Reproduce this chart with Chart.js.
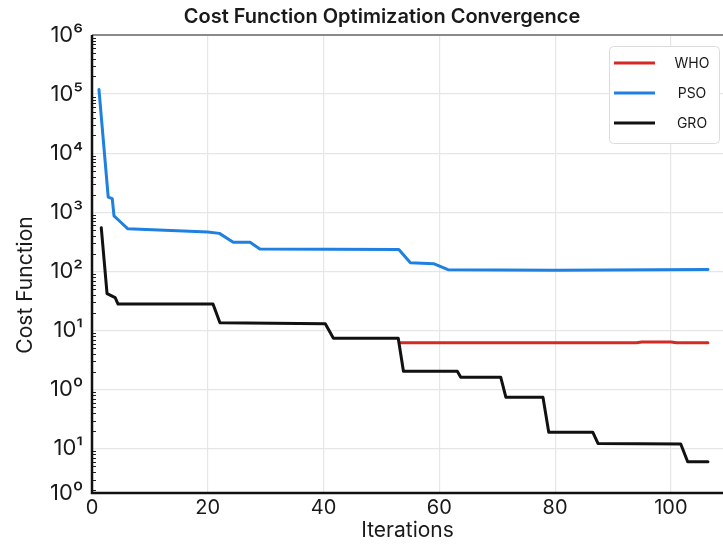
<!DOCTYPE html>
<html>
<head>
<meta charset="utf-8">
<script src="https://cdn.jsdelivr.net/npm/chart.js@4"></script>
<style>
  html, body { margin: 0; padding: 0; background: #fff; }
  #wrap { width: 723px; height: 547px; position: relative; }
</style>
</head>
<body>
<div id="wrap"><canvas id="costChart"></canvas></div>
<script>
// values (iteration, cost)
const whoIters = [53.3, 94, 95, 100, 101, 106.4];
const whoCost  = [6.2, 6.2, 6.4, 6.4, 6.2, 6.2];

const psoIters = [1.2, 2.8, 3.5, 3.8, 4.7, 6.2, 20, 22, 24.4, 27.3, 29, 53, 55, 59, 61.5, 80, 106.4];
const psoCost  = [120000, 1800, 1700, 870, 720, 525, 465, 440, 310, 310, 240, 235, 140, 135, 107, 105, 108];

const groIters = [1.6, 2.6, 4, 4.5, 20.9, 22.1, 40.3, 41.7, 52.9, 53.8, 63.1, 63.7, 70.6, 71.5, 77.9, 78.9, 86.5, 87.4, 101.7, 102.9, 106.4];
const groCost  = [550, 42, 36, 28, 28, 13.5, 13, 7.4, 7.4, 2.04, 2.04, 1.62, 1.62, 0.74, 0.74, 0.19, 0.19, 0.123, 0.12, 0.06, 0.06];

const seriesNames = ["WHO", "PSO", "GRO"];
const seriesColors = ["#d42a26", "#1f80e0", "#111111"];

const xTicks = [0, 20, 40, 60, 80, 100];
const yTickValues = [0.0178, 0.1, 1, 10, 100, 1000, 10000, 100000, 1000000];
const yTickLabels = ["10\u2070", "10\u00b9", "10\u2070", "10\u00b9", "10\u00b2", "10\u00b3", "10\u2074", "10\u2075", "10\u2076"];

const fontFamily = "Inter, 'Liberation Sans', sans-serif";

function toPoints(xs, ys) {
    return xs.map((x, i) => ({ x: x, y: ys[i] }));
}

const textPlugin = {
    id: "texts",
    afterDraw(chart) {
        const ctx = chart.ctx;
        ctx.save();
        ctx.fillStyle = "#1a1a1a";
        ctx.font = "600 20px " + fontFamily;
        ctx.textAlign = "center";
        ctx.textBaseline = "middle";
        ctx.fillText("Cost Function Optimization Convergence", 382, 17);
        // y axis title
        ctx.font = "21px " + fontFamily;
        ctx.translate(26, 285);
        ctx.rotate(-Math.PI / 2);
        ctx.fillText("Cost Function", 0, 0);
        ctx.restore();
    }
};

const framePlugin = {
    id: "frame",
    afterDraw(chart) {
        const ctx = chart.ctx;
        const a = chart.chartArea;
        const y = chart.scales.y;
        ctx.save();
        // grey top border
        ctx.strokeStyle = "#8a8a8a";
        ctx.lineWidth = 2;
        ctx.beginPath();
        ctx.moveTo(a.left, a.top);
        ctx.lineTo(a.right, a.top);
        ctx.stroke();
        // minor ticks on the left axis
        ctx.strokeStyle = "#222";
        ctx.lineWidth = 1;
        for (let d = -2; d < 6; d++) {
            for (let k = 2; k < 10; k++) {
                const v = k * Math.pow(10, d);
                if (v <= y.min || v >= y.max) continue;
                const py = Math.round(y.getPixelForValue(v)) + 0.5;
                ctx.beginPath();
                ctx.moveTo(a.left, py);
                ctx.lineTo(a.left + 4, py);
                ctx.stroke();
            }
        }
        // left and bottom axis lines
        ctx.strokeStyle = "#111";
        ctx.lineWidth = 2.5;
        ctx.beginPath();
        ctx.moveTo(a.left, a.top);
        ctx.lineTo(a.left, a.bottom);
        ctx.lineTo(a.right, a.bottom);
        ctx.stroke();
        ctx.restore();
    }
};

const legendPlugin = {
    id: "boxLegend",
    afterDraw(chart) {
        const ctx = chart.ctx;
        const rowY = [63, 93, 123];
        ctx.save();
        ctx.fillStyle = "#fff";
        ctx.strokeStyle = "#dcdcdc";
        ctx.lineWidth = 1;
        ctx.beginPath();
        ctx.roundRect(609.5, 46.5, 110, 97, 4);
        ctx.fill();
        ctx.stroke();
        ctx.font = "14px " + fontFamily;
        ctx.textAlign = "center";
        ctx.textBaseline = "middle";
        seriesNames.forEach((name, i) => {
            ctx.strokeStyle = seriesColors[i];
            ctx.lineWidth = 3;
            ctx.beginPath();
            ctx.moveTo(614, rowY[i]);
            ctx.lineTo(655, rowY[i]);
            ctx.stroke();
            ctx.fillStyle = "#1a1a1a";
            ctx.fillText(name, 692, rowY[i] + 1);
        });
        ctx.restore();
    }
};

const ctx = document.getElementById("costChart").getContext("2d");
new Chart(ctx, {
    type: "line",
    data: {
        datasets: [
            { label: seriesNames[0], data: toPoints(whoIters, whoCost), borderColor: seriesColors[0], order: 1 },
            { label: seriesNames[1], data: toPoints(psoIters, psoCost), borderColor: seriesColors[1], order: 2 },
            { label: seriesNames[2], data: toPoints(groIters, groCost), borderColor: seriesColors[2], order: 0 }
        ]
    },
    options: {
        responsive: true,
        maintainAspectRatio: false,
        animation: false,
        layout: { padding: { top: 35, left: 0, right: 0, bottom: 0 } },
        elements: {
            point: { radius: 0 },
            line: { borderWidth: 3, tension: 0, borderJoinStyle: "round", borderCapStyle: "round" }
        },
        plugins: {
            legend: { display: false },
            tooltip: { enabled: false }
        },
        scales: {
            x: {
                type: "linear",
                min: 0,
                max: 109,
                afterBuildTicks: s => { s.ticks = xTicks.map(v => ({ value: v })); },
                afterFit: s => { s.height = 54; },
                grid: { color: "#e6e6e6", lineWidth: 1.2, drawTicks: false },
                border: { display: false },
                ticks: { color: "#1a1a1a", font: { family: fontFamily, size: 20 }, padding: 3, maxRotation: 0 },
                title: { display: true, text: "Iterations", color: "#1a1a1a", font: { family: fontFamily, size: 21 }, padding: { top: 0, bottom: 4 } }
            },
            y: {
                type: "logarithmic",
                min: yTickValues[0],
                max: yTickValues[yTickValues.length - 1],
                afterBuildTicks: s => { s.ticks = yTickValues.map(v => ({ value: v })); },
                afterFit: s => { s.width = 92; },
                grid: { color: "#e6e6e6", lineWidth: 1.2, drawTicks: false },
                border: { display: false },
                ticks: {
                    color: "#1a1a1a",
                    font: { family: fontFamily, size: 22 },
                    padding: 9,
                    callback: (v, i) => yTickLabels[i]
                }
            }
        }
    },
    plugins: [textPlugin, framePlugin, legendPlugin]
});
</script>
</body>
</html>
